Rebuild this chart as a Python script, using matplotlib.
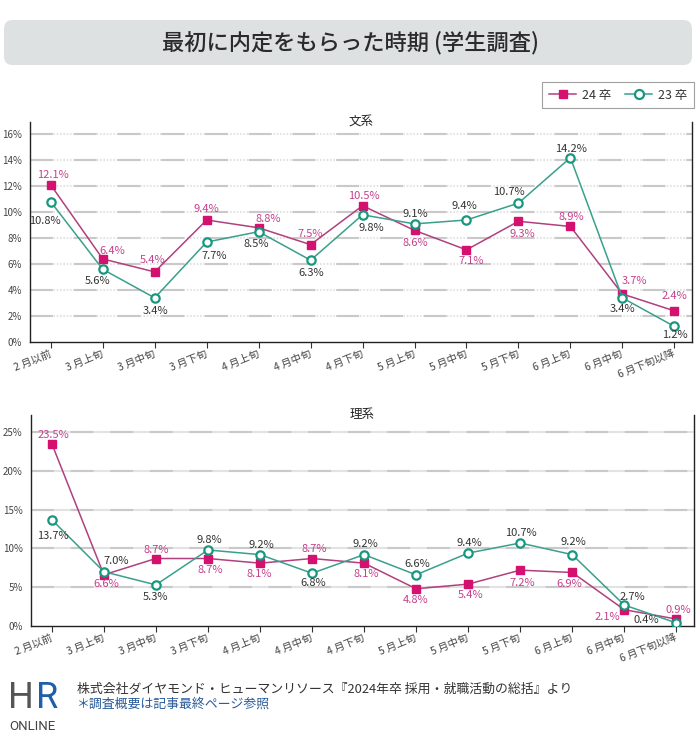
import matplotlib
matplotlib.use("Agg")
import matplotlib.pyplot as plt
from matplotlib.patches import FancyBboxPatch
from matplotlib.lines import Line2D

plt.rcParams['font.family'] = ['Noto Sans CJK JP', 'DejaVu Sans']

# data
periods = ["2 月以前", "3 月上旬", "3 月中旬", "3 月下旬", "4 月上旬", "4 月中旬", "4 月下旬",
           "5 月上旬", "5 月中旬", "5 月下旬", "6 月上旬", "6 月中旬", "6 月下旬以降"]
bunkei_24 = [12.1, 6.4, 5.4, 9.4, 8.8, 7.5, 10.5, 8.6, 7.1, 9.3, 8.9, 3.7, 2.4]
bunkei_23 = [10.8, 5.6, 3.4, 7.7, 8.5, 6.3, 9.8, 9.1, 9.4, 10.7, 14.2, 3.4, 1.2]
rikei_24 = [23.5, 6.6, 8.7, 8.7, 8.1, 8.7, 8.1, 4.8, 5.4, 7.2, 6.9, 2.1, 0.9]
rikei_23 = [13.7, 7.0, 5.3, 9.8, 9.2, 6.8, 9.2, 6.6, 9.4, 10.7, 9.2, 2.7, 0.4]

# label offsets in pixels (dx, dy)
off_b24 = [(2, 10), (10, 8), (-2, 12), (0, 11), (10, 9), (0, 11), (1, 10), (1, -13), (5, -11),
           (4, -13), (1, 9), (12, 13), (0, 15)]
off_b23 = [(-6, -19), (-5, -12), (1, -13), (8, -14), (-2, -12), (1, -13), (9, -13), (1, 10),
           (-2, 14), (-10, 11), (1, 9), (0, -11), (1, -9)]
off_r24 = [(2, 9), (2, -9), (0, 9), (2, -11), (-1, -11), (2, 10), (2, -11), (0, -11), (2, -11),
           (2, -13), (-3, -12), (-17, -7), (2, 9)]
off_r23 = [(1, -16), (12, 11), (0, -12), (1, 10), (1, 10), (1, -10), (1, 11), (1, 11), (1, 10),
           (1, 10), (1, 13), (8, 8), (-30, 3)]

MAG = "#d4116e"
MAG_LINE = "#b0407e"
MAG_TXT = "#c5408d"
TEAL = "#17977f"
TEAL_LINE = "#3a9f8c"
TXT = "#333333"

W, H = 700, 738
fig = plt.figure(figsize=(7, 7.38), dpi=100)


def box(l, t, r, b):
    return [l / W, 1 - b / H, (r - l) / W, (b - t) / H]


def draw_panel(rect, s24, s23, o24, o23, ymax, yticks, title, base_dash, top_dash):
    ax = fig.add_axes(rect)
    x = list(range(len(periods)))
    ax.plot(x, s24, color=MAG_LINE, lw=1.1, marker='s', ms=5.5, mfc=MAG, mec=MAG, zorder=3)
    ax.plot(x, s23, color=TEAL_LINE, lw=1.1, marker='o', ms=6, mfc='white', mec=TEAL,
            mew=1.6, zorder=4)
    for i in x:
        ax.annotate(f"{s24[i]:.1f}%", (i, s24[i]), xytext=o24[i], textcoords='offset pixels',
                    ha='center', va='center', fontsize=8, color=MAG_TXT, zorder=5)
        ax.annotate(f"{s23[i]:.1f}%", (i, s23[i]), xytext=o23[i], textcoords='offset pixels',
                    ha='center', va='center', fontsize=8, color=TXT, zorder=5)
    ax.set_ylim(0, ymax)
    ax.set_xlim(-0.4, 12.34)
    ax.set_yticks(yticks)
    ax.set_yticklabels([f"{v}%" for v in yticks], fontsize=7, color="#444444")
    for v in yticks[1:]:
        # light base line plus darker dashes on top
        ax.axhline(v, color="#e3e3e3", lw=1.5, dashes=base_dash, zorder=1)
        ax.axhline(v, color="#c9c9c9", lw=1.5, dashes=top_dash, zorder=1)
    ax.tick_params(axis='y', length=0, pad=6)
    ax.set_xticks(x)
    ax.set_xticklabels(periods, rotation=22, ha='right', va='center', rotation_mode='anchor',
                       fontsize=7.5, color="#444444")
    ax.tick_params(axis='x', length=4, width=0.8, color="#333333", pad=4)
    ax.spines['top'].set_visible(False)
    for s in ['left', 'bottom', 'right']:
        ax.spines[s].set_color("#222222")
        ax.spines[s].set_linewidth(1.0)
    ax.text(0.5, 1.0, title, transform=ax.transAxes, ha='center', va='center',
            fontsize=9, color="#222222")
    return ax


draw_panel(box(30, 122, 692, 342), bunkei_24, bunkei_23, off_b24, off_b23,
           16.95, [0, 2, 4, 6, 8, 10, 12, 14, 16], "文系", (0.8, 0.8), (11, 10))
draw_panel(box(31, 415, 694, 626), rikei_24, rikei_23, off_r24, off_r23,
           27.2, [0, 5, 10, 15, 20, 25], "理系", (1, 0), (11, 8))

# title bar
fig.patches.append(FancyBboxPatch((4 / W, 1 - 65 / H), 688 / W, 45 / H,
                                  boxstyle="round,pad=0,rounding_size=0.012",
                                  transform=fig.transFigure, fc="#dde1e1", ec='none'))
fig.text(350 / W, 1 - 43 / H, "最初に内定をもらった時期 (学生調査)", ha='center', va='center',
         fontsize=16, fontweight='medium', color="#2b2b2b")

# legend
handles = [Line2D([], [], color=MAG_LINE, lw=1.1, marker='s', ms=6, mfc=MAG, mec=MAG),
           Line2D([], [], color=TEAL_LINE, lw=1.1, marker='o', ms=6.5, mfc='white', mec=TEAL,
                  mew=1.6)]
leg = fig.legend(handles, ["24 卒", "23 卒"], ncol=2, loc='center',
                 bbox_to_anchor=(618 / W, 1 - 95 / H), fontsize=9, frameon=True,
                 fancybox=False, handlelength=2.2, handletextpad=0.45, columnspacing=1.1,
                 borderpad=0.55)
leg.get_frame().set_edgecolor("#888888")
leg.get_frame().set_linewidth(0.8)
for t in leg.get_texts():
    t.set_color(TXT)

# footer logo
logo_h = fig.text(8 / W, 1 - 698 / H, "H", fontsize=26, family=['Roboto', 'DejaVu Sans'],
                  color="#555555", ha='left', va='center')
fig.canvas.draw()
h_right = logo_h.get_window_extent().x1
fig.text((h_right + 2) / W, 1 - 698 / H, "R", fontsize=26, family=['Roboto', 'DejaVu Sans'],
         color="#1f5fa8", ha='left', va='center')
fig.text(9 / W, 1 - 727 / H, "ONLINE", fontsize=9.5, family=['Roboto', 'DejaVu Sans'],
         color="#444444", ha='left', va='center')
fig.text(77 / W, 1 - 689 / H,
         "株式会社ダイヤモンド・ヒューマンリソース『2024年卒 採用・就職活動の総括』より",
         fontsize=9.3, color="#333333", ha='left', va='center')
fig.text(77 / W, 1 - 704 / H, "＊調査概要は記事最終ページ参照", fontsize=9.3,
         color="#2a5c9a", ha='left', va='center')

fig.savefig("out.png", dpi=100)
